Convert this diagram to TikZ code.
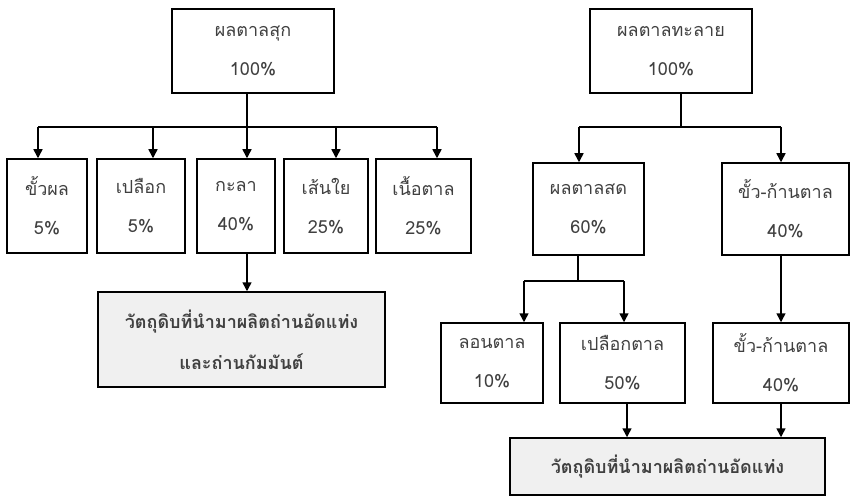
\documentclass[tikz,border=0pt]{standalone}
\usepackage{fontspec}
\usepackage{tikz}
\usetikzlibrary{arrows.meta}
\newfontfamily\thaifont[Script=Thai]{Loma}

\tikzset{
  box/.style={draw, line width=1.5pt, rectangle, align=center, text=black!75,
    font=\thaifont\fontsize{18}{39}\selectfont},
  rawbox/.style={box, fill=black!6, font=\thaifont\bfseries\fontsize{18}{41}\selectfont},
  link/.style={line width=1.5pt},
  arr/.style={line width=1.5pt, -{Triangle[length=9pt,width=9pt]}}
}

\begin{document}
\begin{tikzpicture}[x=1pt,y=-1pt]

\useasboundingbox (0,0) rectangle (851,497);

\node[box, minimum width=162, minimum height=84] (sukTop) at (253,51) {ผลตาลสุก\\100\%};
\node[box, minimum width=80, minimum height=94] (b1) at (47,206) {ขั้วผล\\5\%};
\node[box, minimum width=88, minimum height=94] (b2) at (141,206) {เปลือก\\5\%};
\node[box, minimum width=78, minimum height=94] (b3) at (236,206) {กะลา\\40\%};
\node[box, minimum width=84, minimum height=94] (b4) at (326,206) {เส้นใย\\25\%};
\node[box, minimum width=95, minimum height=94] (b5) at (423.5,206) {เนื้อตาล\\25\%};
\node[rawbox, minimum width=287, minimum height=95] (leftRaw) at (241.5,339.5) {วัตถุดิบที่นำมาผลิตถ่านอัดแท่ง\\และถ่านกัมมันต์};

\node[box, minimum width=162, minimum height=84] (plaiTop) at (671,51) {ผลตาลทะลาย\\100\%};
\node[box, minimum width=111, minimum height=92] (fresh) at (588.5,209) {ผลตาลสด\\60\%};
\node[box, minimum width=127, minimum height=92] (stalk) at (785.5,209) {ขั้ว-ก้านตาล\\40\%};
\node[box, minimum width=102, minimum height=80] (lon) at (492,363) {ลอนตาล\\10\%};
\node[box, minimum width=125, minimum height=80] (peel) at (622.5,363) {เปลือกตาล\\50\%};
\node[box, minimum width=136, minimum height=80] (stalkB) at (781,363) {ขั้ว-ก้านตาล\\40\%};
\node[rawbox, minimum width=315, minimum height=57] (rightRaw) at (667.5,466.5) {วัตถุดิบที่นำมาผลิตถ่านอัดแท่ง};

\coordinate (j1) at (38,127);
\coordinate (j2) at (153,127);
\coordinate (j3) at (247,127);
\coordinate (j4) at (336,127);
\coordinate (j5) at (437,127);
\draw[link] (j1) -- (j5);
\draw[arr] (j3 |- sukTop.south) -- (j3 |- b3.north);
\foreach \j/\n in {j1/b1,j2/b2,j4/b4,j5/b5}
  \draw[arr] (\j) -- (\j |- \n.north);
\draw[arr] (j3 |- b3.south) -- (j3 |- leftRaw.north);

\coordinate (k0) at (681,127);
\coordinate (k1) at (579,127);
\coordinate (k2) at (781,127);
\draw[link] (k0 |- plaiTop.south) -- (k0);
\draw[link] (k1) -- (k2);
\draw[arr] (k1) -- (k1 |- fresh.north);
\draw[arr] (k2) -- (k2 |- stalk.north);
\draw[arr] (k2 |- stalk.south) -- (k2 |- stalkB.north);

\coordinate (m0) at (578,281);
\coordinate (m1) at (524,281);
\coordinate (m2) at (624,281);
\draw[link] (m0 |- fresh.south) -- (m0);
\draw[link] (m1) -- (m2);
\draw[arr] (m1) -- (m1 |- lon.north);
\draw[arr] (m2) -- (m2 |- peel.north);

\coordinate (n1) at (627,420);
\draw[arr] (n1 |- peel.south) -- (n1 |- rightRaw.north);
\draw[arr] (k2 |- stalkB.south) -- (k2 |- rightRaw.north);

\end{tikzpicture}
\end{document}
